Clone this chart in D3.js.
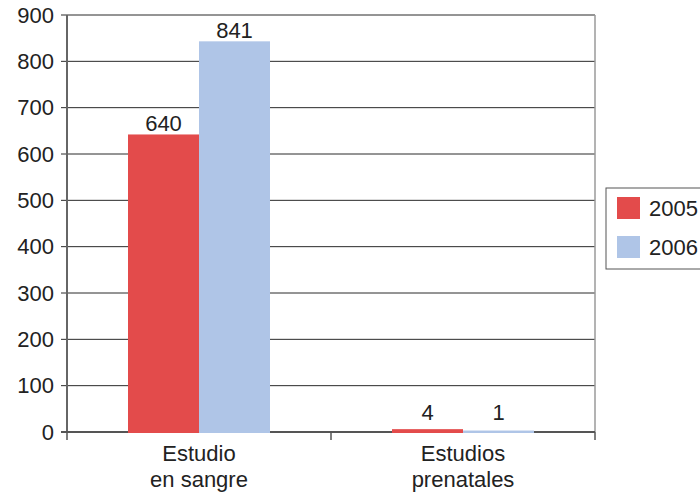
<!DOCTYPE html>
<meta charset="utf-8">
<head>
<style>
  body { margin:0; background:#fff; }
  svg { display:block; font-family:"Liberation Sans", Arial, sans-serif; }
</style>
</head>
<body>
<svg id="chart" width="700" height="496"></svg>
<script src="https://cdnjs.cloudflare.com/ajax/libs/d3/7.8.5/d3.min.js"></script>
<script>

// data
var categories = [["Estudio", "en sangre"], ["Estudios", "prenatales"]]
var years = ["2005", "2006"]
var values2005 = [640, 4]
var values2006 = [841, 1]
var yTicks = [0, 100, 200, 300, 400, 500, 600, 700, 800, 900]
var colors = ["#e34b4b", "#afc5e7"]

var rows = categories.map(function(c, i){
  return { cat: i, vals: [values2005[i], values2006[i]] }
})

var svg = d3.select("#chart")
var mLeft = 67, mRight = 595, mTop = 15, mBottom = 432
var fs = 22

var y = d3.scaleLinear().domain([0, 900]).range([mBottom, mTop])
var x0 = d3.scaleBand().domain(d3.range(categories.length)).range([mLeft, mRight])
var groupW = 142
var x1 = d3.scaleBand().domain(d3.range(years.length))
    .range([(x0.bandwidth() - groupW) / 2, (x0.bandwidth() + groupW) / 2])

// gridlines
svg.append("g")
  .selectAll("line")
  .data(yTicks.filter(function(d){ return d > 0 }))
  .enter().append("line")
    .attr("x1", mLeft - 6).attr("x2", mRight)
    .attr("y1", function(d){ return y(d) }).attr("y2", function(d){ return y(d) })
    .attr("stroke", "#2a2a2a").attr("stroke-width", 1)

// right border
svg.append("line")
  .attr("x1", mRight).attr("x2", mRight).attr("y1", mTop).attr("y2", mBottom)
  .attr("stroke", "#9a9a9a").attr("stroke-width", 1.5)

// y labels
svg.append("g")
  .selectAll("text")
  .data(yTicks)
  .enter().append("text")
    .attr("x", 54)
    .attr("y", function(d){ return y(d) })
    .attr("text-anchor", "end")
    .attr("dominant-baseline", "central")
    .attr("font-size", fs)
    .attr("fill", "#222")
    .text(function(d){ return d })

// axes (drawn under the bars)
svg.append("line")
  .attr("x1", mLeft).attr("x2", mLeft).attr("y1", mTop).attr("y2", mBottom)
  .attr("stroke", "#666").attr("stroke-width", 2)
svg.append("line")
  .attr("x1", mLeft - 6).attr("x2", mRight).attr("y1", mBottom).attr("y2", mBottom)
  .attr("stroke", "#555").attr("stroke-width", 2)

svg.append("g")
  .selectAll("line")
  .data(d3.range(categories.length + 1))
  .enter().append("line")
    .attr("x1", function(d){ return mLeft + d * x0.step() })
    .attr("x2", function(d){ return mLeft + d * x0.step() })
    .attr("y1", mBottom).attr("y2", mBottom + 8)
    .attr("stroke", "#555").attr("stroke-width", 1.5)

// bars
var groups = svg.append("g")
  .selectAll("g")
  .data(rows)
  .enter().append("g")
    .attr("transform", function(d){ return "translate(" + x0(d.cat) + ",0)" })

groups.selectAll("rect")
  .data(function(d){ return d.vals })
  .enter().append("rect")
    .attr("x", function(d, i){ return x1(i) })
    .attr("width", x1.bandwidth())
    .attr("y", function(d){ return y(d) - 1 })
    .attr("height", function(d){ return mBottom - y(d) + 2 })
    .attr("fill", function(d, i){ return colors[i] })

groups.selectAll("text")
  .data(function(d){ return d.vals })
  .enter().append("text")
    .attr("x", function(d, i){ return x1(i) + x1.bandwidth() / 2 })
    .attr("y", function(d){ return Math.min(y(d) - 4, mBottom - 12) })
    .attr("text-anchor", "middle")
    .attr("font-size", fs)
    .attr("fill", "#222")
    .text(function(d){ return d })

// category labels
var cl = svg.append("g")
  .selectAll("text")
  .data(categories)
  .enter().append("text")
    .attr("text-anchor", "middle")
    .attr("font-size", fs)
    .attr("fill", "#222")
cl.selectAll("tspan")
  .data(function(d, i){ return d.map(function(t){ return { t: t, i: i } }) })
  .enter().append("tspan")
    .attr("x", function(d){ return x0(d.i) + x0.bandwidth() / 2 })
    .attr("y", function(d, j){ return 461 + j * 26 })
    .text(function(d){ return d.t })

// legend
var legend = svg.append("g").attr("transform", "translate(606,188)")
legend.append("rect")
  .attr("x", 0).attr("y", 0).attr("width", 100).attr("height", 81)
  .attr("fill", "#fff").attr("stroke", "#555").attr("stroke-width", 1)
var li = legend.selectAll("g.item")
  .data(years)
  .enter().append("g")
    .attr("transform", function(d, i){ return "translate(11," + (9 + i * 39) + ")" })
li.append("rect")
  .attr("width", 23).attr("height", 22)
  .attr("fill", function(d, i){ return colors[i] })
li.append("text")
  .attr("x", 32).attr("y", 11)
  .attr("dominant-baseline", "central")
  .attr("font-size", fs)
  .attr("fill", "#222")
  .text(function(d){ return d })

</script>
</body>
